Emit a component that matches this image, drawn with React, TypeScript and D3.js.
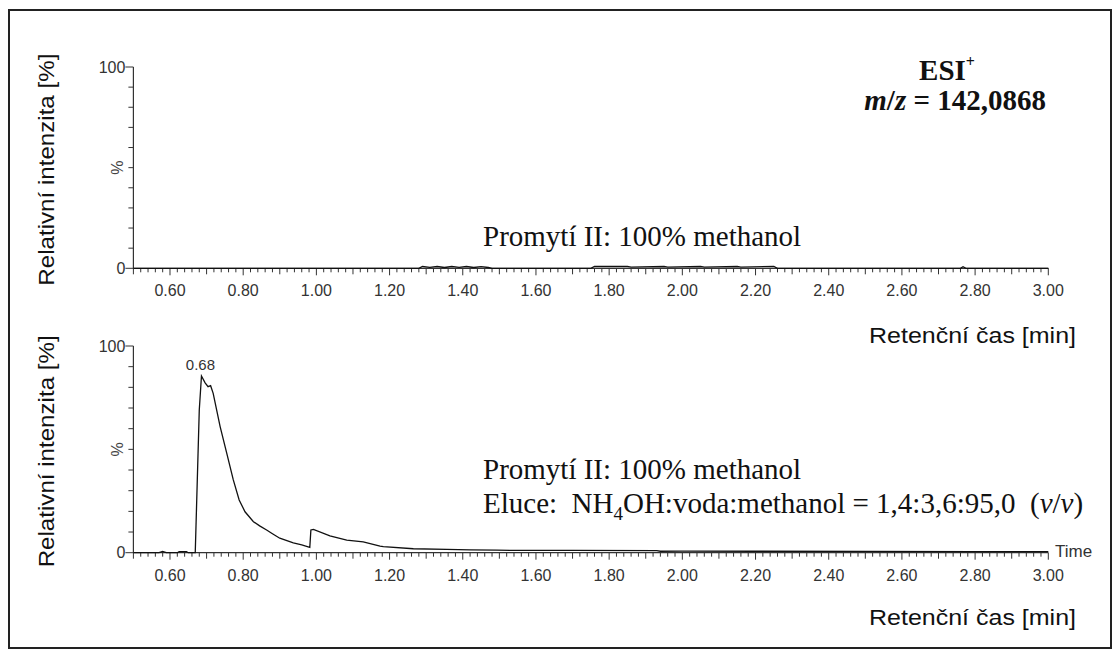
import React from "react";
import * as d3 from "d3";

// ---------- data ----------
const xMajorTicks = [0.6, 0.8, 1.0, 1.2, 1.4, 1.6, 1.8, 2.0, 2.2, 2.4, 2.6, 2.8, 3.0];
const xTickLabels = ["0.60", "0.80", "1.00", "1.20", "1.40", "1.60", "1.80", "2.00", "2.20", "2.40", "2.60", "2.80", "3.00"];
const yTickLabels = ["0", "100"];

const topTime = [0.5, 1.28, 1.29, 1.31, 1.33, 1.35, 1.37, 1.39, 1.41, 1.43, 1.45, 1.47, 1.48, 1.75, 1.76, 1.85, 1.86, 1.95, 1.96, 2.05, 2.06, 2.15, 2.16, 2.25, 2.26, 2.76, 2.767, 2.775, 3.0];
const topIntensity = [0, 0, 0.9, 0.5, 0.9, 0.4, 0.9, 0.5, 0.9, 0.4, 0.8, 0.4, 0, 0, 0.9, 0.9, 0.6, 0.9, 0.6, 0.9, 0.6, 0.9, 0.6, 0.9, 0, 0, 0.8, 0, 0];

const bottomTime = [0.5, 0.57, 0.58, 0.59, 0.62, 0.625, 0.645, 0.65, 0.669, 0.68, 0.686, 0.696, 0.704, 0.711, 0.718, 0.737, 0.755, 0.773, 0.789, 0.805, 0.828, 0.845, 0.864, 0.88, 0.9, 0.937, 0.96, 0.982, 0.985, 0.992, 1.037, 1.083, 1.128, 1.174, 1.183, 1.265, 1.356, 1.42, 1.493, 1.6, 1.7, 1.93, 1.94, 2.0, 2.2, 2.5, 2.8, 3.0];
const bottomIntensity = [0, 0, 0.6, 0, 0, 0.5, 0.5, 0, 0, 69, 85.5, 82.2, 80.3, 80.8, 77.1, 61, 48.2, 35.2, 25.5, 19.8, 15, 13, 11, 9.2, 7, 4.8, 3.8, 2.6, 11, 11.3, 8.1, 6.1, 5.2, 3.2, 2.9, 1.9, 1.6, 1.4, 1.2, 1.1, 1.1, 1.0, 0.7, 0.8, 0.7, 0.6, 0.5, 0.5];

const peakTime = 0.686;
const peakValue = 85.5;
const peakLabel = "0.68";

// ---------- layout ----------
const W = 1120;
const H = 656;
const X0 = 133.4;
const X1 = 1048.3;
const panels = [
  { top: 67, bottom: 268.3 },
  { top: 346, bottom: 552.7 },
];

const SANS = "Arial, 'Liberation Sans', sans-serif";
const SERIF = "'Times New Roman', 'Liberation Serif', serif";

function Panel({ idx, time, values }: { idx: number; time: number[]; values: number[] }) {
  const p = panels[idx];
  const x = d3.scaleLinear().domain([0.5, 3.0]).range([X0, X1]);
  const y = d3.scaleLinear().domain([0, 100]).range([p.bottom, p.top]);
  const line = d3
    .line<number>()
    .x((_, i) => x(time[i]))
    .y((d) => y(d));
  const minor = d3.range(0.5, 3.0001, 0.02);
  const yMinor = d3.range(0, 100.001, 10);
  return (
    <g>
      {/* y axis */}
      <line x1={X0} x2={X0} y1={p.top} y2={p.bottom} stroke="#333" strokeWidth={1.2} />
      {yMinor.map((v) => {
        const major = v === 0 || v === 100;
        return (
          <line key={"ym" + v} x1={X0 - (major ? 8 : 5)} x2={X0} y1={y(v)} y2={y(v)} stroke="#333" strokeWidth={1} />
        );
      })}
      {yTickLabels.map((t) => (
        <text key={"yl" + t} x={X0 - 8} y={y(+t)} dy="0.36em" textAnchor="end" fontFamily={SANS} fontSize={16} fill="#333">
          {t}
        </text>
      ))}
      <text transform={`translate(123,${(p.top + p.bottom) / 2}) rotate(-90)`} textAnchor="middle" fontFamily={SANS} fontSize={16} fill="#444">
        %
      </text>
      {/* x axis */}
      <line x1={X0} x2={X1} y1={p.bottom} y2={p.bottom} stroke="#333" strokeWidth={1.2} />
      {minor.map((v, i) => {
        const r = Math.round(v * 100);
        const len = r % 20 === 0 ? 7 : r % 10 === 0 ? 6 : 4;
        return <line key={"xm" + i} x1={x(v)} x2={x(v)} y1={p.bottom} y2={p.bottom + len} stroke="#333" strokeWidth={1} />;
      })}
      {xMajorTicks.map((v, i) => (
        <text key={"xl" + i} x={x(v)} y={p.bottom + 28} textAnchor="middle" fontFamily={SANS} fontSize={16} fill="#333">
          {xTickLabels[i]}
        </text>
      ))}
      {/* trace */}
      <path d={line(values) || ""} fill="none" stroke="#111" strokeWidth={1.3} />
      {/* axis titles */}
      <text x={1076} y={p.bottom + (idx === 0 ? 75 : 72)} textAnchor="end" fontFamily={SANS} fontSize={22} fill="#111" textLength={207} lengthAdjust="spacingAndGlyphs">
        Retenční čas [min]
      </text>
      <text transform={`translate(54,${(p.top + p.bottom) / 2 + 2}) rotate(-90)`} textAnchor="middle" fontFamily={SANS} fontSize={22} fill="#111" textLength={232} lengthAdjust="spacingAndGlyphs">
        Relativní intenzita [%]
      </text>
    </g>
  );
}

export default function App() {
  const x = d3.scaleLinear().domain([0.5, 3.0]).range([X0, X1]);
  const yB = d3.scaleLinear().domain([0, 100]).range([panels[1].bottom, panels[1].top]);
  return (
    <svg width={W} height={H} style={{ position: "absolute", left: 0, top: 0, background: "#fff" }}>
      <rect x={0} y={0} width={W} height={H} fill="#fff" />
      <rect x={9} y={10} width={1102} height={638} fill="none" stroke="#222" strokeWidth={2} />
      <Panel idx={0} time={topTime} values={topIntensity} />
      <Panel idx={1} time={bottomTime} values={bottomIntensity} />
      <text x={x(peakTime) - 1} y={yB(peakValue) - 6} textAnchor="middle" fontFamily={SANS} fontSize={15} fill="#333">
        {peakLabel}
      </text>
      <text x={1055} y={panels[1].bottom + 4} fontFamily={SANS} fontSize={17} fill="#333">
        Time
      </text>
      {/* annotations */}
      <text x={947} y={80} textAnchor="middle" fontFamily={SERIF} fontSize={29} fontWeight="bold" fill="#111">
        ESI<tspan fontSize={16} dy={-13}>+</tspan>
      </text>
      <text x={1046} y={110} textAnchor="end" fontFamily={SERIF} fontSize={29} fontWeight="bold" fill="#111">
        <tspan fontStyle="italic">m</tspan>/<tspan fontStyle="italic">z</tspan> = 142,0868
      </text>
      <text x={483} y={246} fontFamily={SERIF} fontSize={29} fill="#111">
        Promytí II: 100% methanol
      </text>
      <text x={483} y={479} fontFamily={SERIF} fontSize={29} fill="#111">
        Promytí II: 100% methanol
      </text>
      <text x={483} y={513} fontFamily={SERIF} fontSize={29} fill="#111" xmlSpace="preserve">
        Eluce:  NH<tspan fontSize={19} dy={7}>4</tspan>
        <tspan dy={-7}>OH:voda:methanol = 1,4:3,6:95,0  (</tspan>
        <tspan fontStyle="italic">v</tspan>/<tspan fontStyle="italic">v</tspan>)
      </text>
    </svg>
  );
}
